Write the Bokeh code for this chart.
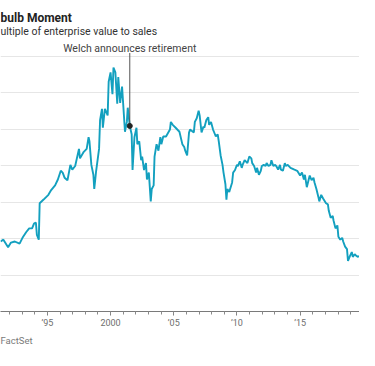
from bokeh.plotting import figure
from bokeh.models import FixedTicker, Label, Title
from bokeh.embed import file_html
from bokeh.resources import INLINE

# EV / sales multiple
years = [1991.29, 1991.52, 1991.89, 1992.12, 1992.42, 1992.80, 1993.03, 1993.33, 1993.56, 1993.79,
         1993.94, 1994.09, 1994.17, 1994.32, 1994.39, 1994.70, 1995.08, 1995.30, 1995.61, 1995.83,
         1996.06, 1996.21, 1996.36, 1996.59, 1996.82, 1996.97, 1997.20, 1997.50, 1997.58, 1997.88,
         1998.11, 1998.26, 1998.33, 1998.48, 1998.64, 1998.71, 1998.86, 1999.09, 1999.17, 1999.32,
         1999.39, 1999.55, 1999.77, 1999.85, 2000.00, 2000.15, 2000.23, 2000.38, 2000.53, 2000.61,
         2000.76, 2000.91, 2001.14, 2001.29, 2001.36, 2001.52, 2001.67, 2001.74, 2001.89, 2002.05,
         2002.12, 2002.27, 2002.42, 2002.50, 2002.65, 2002.80, 2002.88, 2003.03, 2003.18, 2003.26,
         2003.41, 2003.48, 2003.64, 2003.79, 2003.94, 2004.02, 2004.17, 2004.39, 2004.70, 2004.77,
         2004.92, 2005.15, 2005.45, 2005.68, 2005.83, 2005.91, 2006.06, 2006.21, 2006.29, 2006.59,
         2006.67, 2006.82, 2006.97, 2007.05, 2007.20, 2007.35, 2007.42, 2007.58, 2007.73, 2007.80,
         2007.95, 2008.11, 2008.18, 2008.33, 2008.48, 2008.56, 2008.71, 2008.86, 2008.94, 2009.09,
         2009.17, 2009.24, 2009.39, 2009.62, 2009.70, 2009.85, 2010.00, 2010.08, 2010.23, 2010.38,
         2010.45, 2010.61, 2010.83, 2010.98, 2011.14, 2011.21, 2011.36, 2011.52, 2011.59, 2011.74,
         2011.89, 2011.97, 2012.12, 2012.27, 2012.35, 2012.50, 2012.65, 2012.73, 2012.88, 2013.03,
         2013.11, 2013.26, 2013.41, 2013.48, 2013.64, 2013.79, 2013.86, 2014.02, 2014.24, 2014.55,
         2014.77, 2015.00, 2015.15, 2015.30, 2015.38, 2015.53, 2015.68, 2015.76, 2015.91, 2016.06,
         2016.14, 2016.29, 2016.44, 2016.52, 2016.67, 2016.82, 2017.05, 2017.20, 2017.27, 2017.42,
         2017.58, 2017.65, 2017.80, 2017.95, 2018.03, 2018.18, 2018.33, 2018.41, 2018.56, 2018.71,
         2018.79, 2018.94, 2019.09, 2019.17, 2019.32, 2019.47, 2019.55, 2019.70]
multiple = [1.92, 1.97, 1.76, 1.89, 1.92, 1.86, 2.02, 2.18, 2.28, 2.28,
            2.41, 2.44, 2.10, 1.97, 2.97, 3.07, 3.20, 3.33, 3.46, 3.62,
            3.86, 3.81, 3.67, 3.60, 4.02, 3.89, 3.99, 4.46, 4.20, 4.38,
            4.46, 4.78, 4.67, 4.02, 3.75, 3.36, 3.86, 4.46, 5.25, 5.56,
            5.04, 5.56, 5.38, 6.30, 6.56, 5.96, 6.69, 6.56, 5.70, 6.43,
            5.72, 6.17, 4.93, 5.20, 5.59, 5.09, 4.86, 3.88, 4.78, 5.04,
            4.59, 4.67, 4.15, 4.25, 3.88, 4.07, 3.62, 3.81, 3.02, 3.36,
            3.46, 4.25, 4.59, 4.41, 4.78, 4.59, 4.80, 4.80, 4.99, 5.20,
            5.12, 5.04, 4.93, 4.59, 4.51, 4.41, 4.28, 4.91, 4.99, 4.91,
            5.20, 5.30, 5.51, 5.38, 4.91, 5.07, 5.04, 5.25, 5.33, 5.12,
            5.20, 4.99, 4.93, 4.80, 4.86, 4.67, 4.28, 4.02, 3.81, 3.49,
            3.07, 3.36, 3.28, 3.54, 3.81, 3.88, 4.02, 3.99, 4.12, 3.94,
            4.02, 4.15, 4.07, 4.25, 4.20, 4.07, 3.99, 3.81, 3.94, 3.75,
            3.86, 3.99, 4.02, 3.99, 4.07, 3.99, 4.02, 4.15, 3.99, 4.02,
            3.99, 3.89, 4.02, 3.89, 3.86, 4.07, 3.99, 4.02, 3.94, 3.89,
            3.86, 3.73, 3.81, 3.62, 3.75, 3.41, 3.62, 3.73, 3.60, 3.67,
            3.54, 3.36, 3.15, 3.02, 3.20, 3.10, 2.97, 2.94, 2.76, 2.57,
            2.62, 2.49, 2.28, 2.36, 2.05, 1.97, 2.02, 1.92, 1.78, 1.71,
            1.39, 1.52, 1.63, 1.50, 1.57, 1.52, 1.50, 1.52]

tick_years = [1995, 2000, 2005, 2010, 2015]
tick_labels = ["\u201995", "2000", "\u201905", "\u201910", "\u201915"]
minor_years = list(range(1992, 2020))
grid_levels = [1, 2, 3, 4, 5, 6, 7]

welch_year = [2001.52]
welch_value = [5.09]
welch_top = [7.09]

title_text = "bulb Moment"
subtitle_text = "ultiple of enterprise value to sales"
note_text = "Welch announces retirement"
source_text = "FactSet"

FONT = "Roboto"
X0, X1 = 1991.29, 2019.70

p = figure(width=359, height=350, x_range=(X0, X1), y_range=(0, 8.53),
           output_backend="svg", toolbar_location=None, y_axis_location=None,
           min_border_left=0, min_border_right=0, min_border_top=0, min_border_bottom=39)
p.outline_line_color = None
p.background_fill_color = "white"
p.border_fill_color = "white"

p.xgrid.visible = False
p.ygrid.ticker = FixedTicker(ticks=grid_levels)
p.ygrid.grid_line_color = "#e6e6e6"
p.ygrid.grid_line_width = 1

ax = p.xaxis[0]
ax.ticker = FixedTicker(ticks=tick_years, minor_ticks=minor_years)
ax.major_label_overrides = dict(zip(tick_years, tick_labels))
ax.axis_line_color = "#7a7a7a"
ax.major_tick_line_color = "#7a7a7a"
ax.minor_tick_line_color = "#8a8a8a"
ax.major_tick_in = 0
ax.major_tick_out = 4
ax.minor_tick_in = 0
ax.minor_tick_out = 3
ax.major_label_standoff = 2
ax.major_label_text_font = FONT
ax.major_label_text_font_size = "9px"
ax.major_label_text_color = "#6e6e6e"

p.add_layout(Title(text=source_text, align="left", offset=0, standoff=4,
                   text_font=FONT, text_font_size="9.5px", text_font_style="normal",
                   text_color="#7a7a7a"), "below")

p.line(years, multiple, line_color="#13a0bf", line_width=1.9)

p.segment(x0=welch_year, y0=welch_value, x1=welch_year, y1=welch_top,
          line_color="#555555", line_width=1)
p.scatter(welch_year, welch_value, size=5, fill_color="#222222", line_color="#222222")

p.add_layout(Label(x=X0, y=8.06, text=title_text, text_baseline="alphabetic",
                   text_font=FONT, text_font_size="12px", text_font_style="bold",
                   text_color="#222222"))
p.add_layout(Label(x=X0, y=7.68, text=subtitle_text, text_baseline="alphabetic",
                   text_font=FONT, text_font_size="10.5px", text_color="#333333"))
p.add_layout(Label(x=welch_year[0], y=7.22, text=note_text, text_baseline="alphabetic",
                   text_align="center", text_font=FONT, text_font_size="10.5px",
                   text_color="#444444"))

open("out.html", "w").write(file_html(p, INLINE))
